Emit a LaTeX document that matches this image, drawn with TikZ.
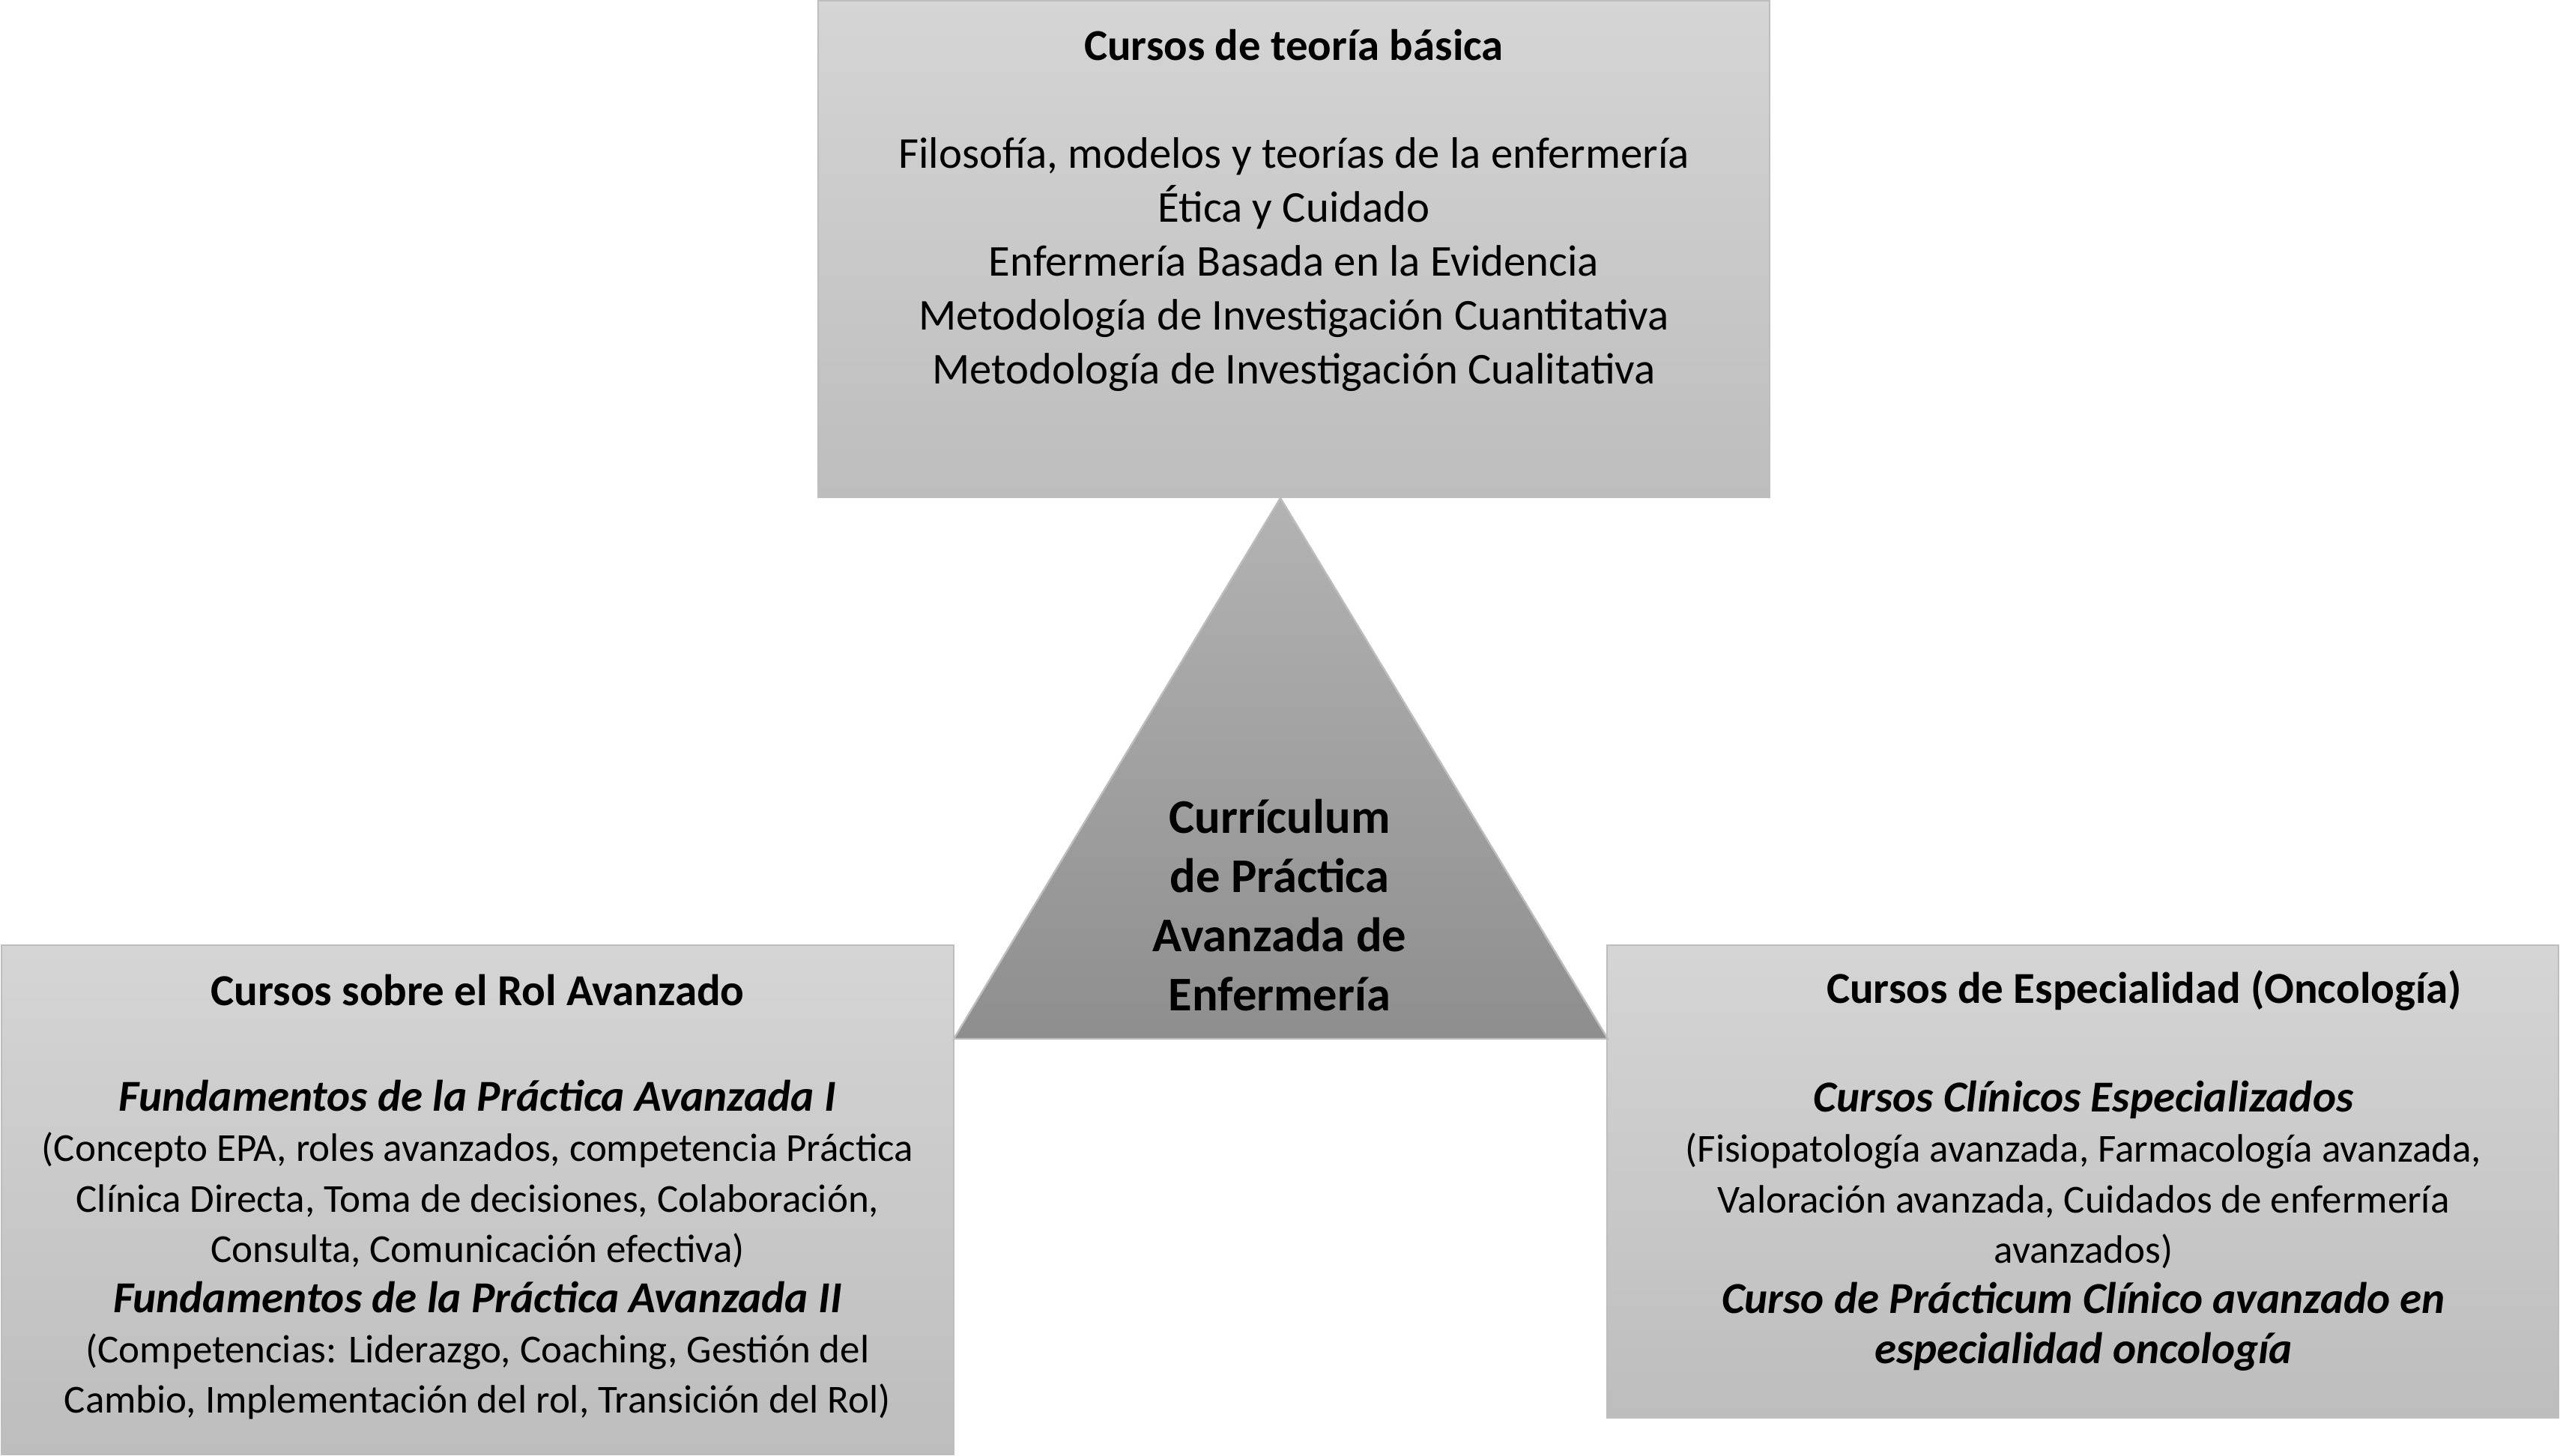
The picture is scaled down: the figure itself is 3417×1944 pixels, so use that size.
\documentclass[tikz,border=0pt]{standalone}
\usepackage{fontspec}
\setmainfont{Carlito}
\begin{document}
\begin{tikzpicture}[x=0.5pt,y=-0.5pt]
\definecolor{boxtop}{HTML}{D5D5D5}
\definecolor{boxbot}{HTML}{BDBDBD}
\definecolor{tritop}{HTML}{B3B3B3}
\definecolor{tribot}{HTML}{8E8E8E}
\definecolor{edge}{HTML}{BDBDBD}
\newcommand{\headline}[1]{{\fontsize{29.5}{33.6}\selectfont\bfseries\itshape #1}}
\newcommand{\titleline}[1]{{\fontsize{29.5}{33.6}\selectfont\bfseries #1}}
\tikzset{
  gbox/.style={draw=edge, line width=1.2pt, top color=boxtop, bottom color=boxbot, inner sep=0pt},
  toptext/.style={align=center, font=\fontsize{29.4}{36}\selectfont, inner sep=0pt},
  sidetext/.style={align=center, font=\fontsize{26.5}{33.6}\selectfont, inner sep=0pt},
  tritext/.style={align=center, font=\bfseries\fontsize{32.3}{39.5}\selectfont, inner sep=0pt}
}
\useasboundingbox (0,0) rectangle (3417,1944);
% boxes
\node[gbox, minimum width=635pt, minimum height=331.5pt] (topbox) at (1727,332.5) {};
\node[gbox, minimum width=635.5pt, minimum height=340pt] (leftbox) at (637.5,1602) {};
\node[gbox, minimum width=635pt, minimum height=315.5pt] (rightbox) at (2780,1577.5) {};
% triangle
\coordinate (apex) at (1709,665);
\coordinate (bl) at (1273,1387);
\coordinate (br) at (2146,1387);
\path[draw=edge, line width=1.2pt, top color=tritop, bottom color=tribot] (apex) -- (bl) -- (br) -- cycle;
% texts
\node[toptext] (toptxt) at (1727,281) {\textbf{Cursos de teoría básica}\\[36pt]
Filosofía, modelos y teorías de la enfermería\\
Ética y Cuidado\\
Enfermería Basada en la Evidencia\\
Metodología de Investigación Cuantitativa\\
Metodología de Investigación Cualitativa};
\node[tritext] (tritxt) at (1708,1208.5) {Currículum\\de Práctica\\Avanzada de\\Enfermería};
\node[sidetext] (lefttxt) at (637.5,1598) {\titleline{Cursos sobre el Rol Avanzado}\\[37.2pt]
\headline{Fundamentos de la Práctica Avanzada I}\\
(Concepto EPA, roles avanzados, competencia Práctica\\
Clínica Directa, Toma de decisiones, Colaboración,\\
Consulta, Comunicación efectiva)\\
\headline{Fundamentos de la Práctica Avanzada II}\\
(Competencias: Liderazgo, Coaching, Gestión del\\
Cambio, Implementación del rol, Transición del Rol)};
\node[sidetext] (righttitle) at (2862,1323) {\titleline{Cursos de Especialidad (Oncología)}};
\node[sidetext] (righttxt) at (2781,1637) {\headline{Cursos Clínicos Especializados}\\
(Fisiopatología avanzada, Farmacología avanzada,\\
Valoración avanzada, Cuidados de enfermería\\
avanzados)\\
\headline{Curso de Prácticum Clínico avanzado en}\\
\headline{especialidad oncología}};
\end{tikzpicture}
\end{document}
